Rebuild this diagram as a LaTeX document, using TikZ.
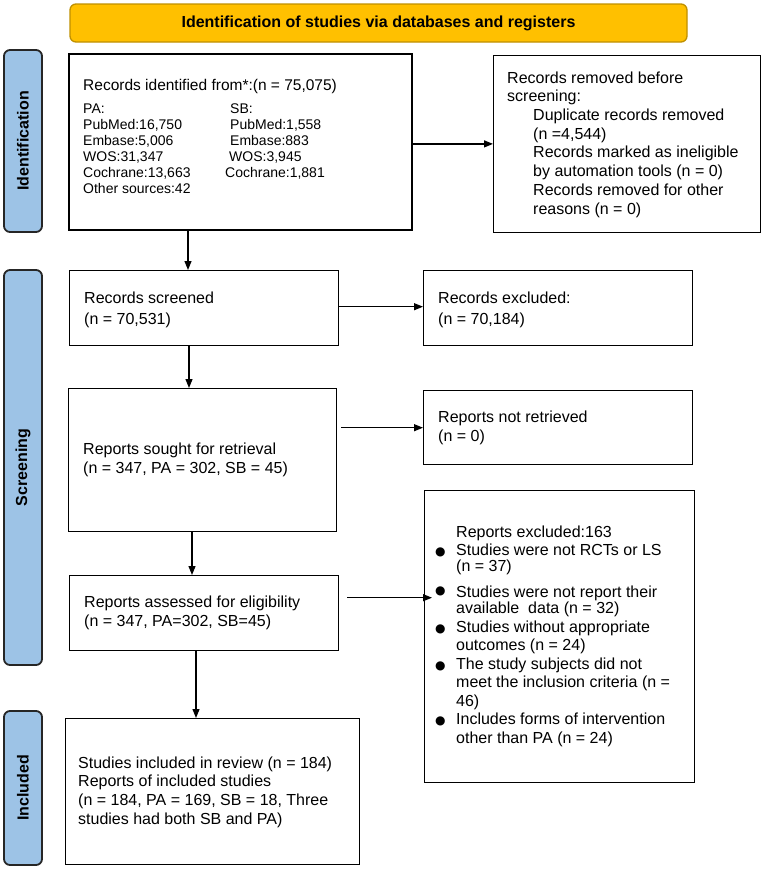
\documentclass[tikz,border=0pt]{standalone}
\usepackage{fontspec}
\setmainfont{Liberation Sans}
\newfontfamily\dejavu{DejaVu Sans}
\usetikzlibrary{arrows.meta}
\definecolor{banfill}{HTML}{FFC000}
\definecolor{banline}{HTML}{BF9000}
\definecolor{barfill}{HTML}{9DC3E6}
\definecolor{barline}{HTML}{262626}
\newcommand{\bul}{\makebox[21pt][l]{{\dejavu\fontsize{12}{12}\selectfont ●}}}
\newcommand{\bulr}{\makebox[21pt][l]{\raisebox{3pt}{\dejavu\fontsize{12}{12}\selectfont ●}}}
\begin{document}
\begin{tikzpicture}[x=1pt,y=-1pt,
  box/.style={draw=black, line width=1.4pt, inner sep=0, anchor=north west},
  bar/.style={draw=barline, fill=barfill, line width=1.8pt, rounded corners=6pt, rotate=90,
    inner sep=0, font=\bfseries\fontsize{16}{18}\selectfont},
  banner/.style={draw=banline, fill=banfill, line width=1.3pt, rounded corners=6pt,
    inner sep=0, font=\bfseries\fontsize{16}{18}\selectfont},
  txt/.style={inner sep=0, anchor=west, align=left, font=\fontsize{16}{18.7}\selectfont},
  arr/.style={line width=1.2pt, -{Triangle[length=9pt,width=7pt]}}]
\useasboundingbox (0,0) rectangle (765,870);

% banner and side bars
\node[banner, minimum width=617pt, minimum height=38pt] (ban) at (378.5,23) {Identification of studies via databases and registers};
\node[bar, minimum width=182pt, minimum height=38pt] (idbar) at (23,141) {Identification};
\node[bar, minimum width=395pt, minimum height=38pt] (scbar) at (23,467.5) {Screening};
\node[bar, minimum width=154pt, minimum height=38pt] (inbar) at (23,788) {Included};

% boxes
\node[box, line width=1.8pt, minimum width=343pt, minimum height=176pt] (b1) at (68,53) {};
\node[box, minimum width=267pt, minimum height=177pt] (b2) at (493,55) {};
\node[box, minimum width=269pt, minimum height=75pt] (scr) at (69,270) {};
\node[box, minimum width=269pt, minimum height=75pt] (exc) at (423,270) {};
\node[box, minimum width=268pt, minimum height=143pt] (sou) at (68,388) {};
\node[box, minimum width=269pt, minimum height=74pt] (nre) at (423,390) {};
\node[box, minimum width=269pt, minimum height=75pt] (ass) at (69,575) {};
\node[box, minimum width=270pt, minimum height=292pt] (rex) at (424,490) {};
\node[box, minimum width=294pt, minimum height=146pt] (inc) at (65,718) {};

% texts
\node[txt, font=\fontsize{15.5}{18}\selectfont] (t1) at (83,86) {Records identified from*:(n = 75,075)};
\node[txt, anchor=north west, font=\fontsize{14}{16}\selectfont] (pa) at (83,104)
  {PA:\\PubMed:16,750\\Embase:5,006\\WOS:31,347\\Cochrane:13,663\\Other sources:42};
\node[txt, anchor=north west, font=\fontsize{14}{16}\selectfont] (sb) at (230,104)
  {SB:\\PubMed:1,558\\Embase:883\\\hspace*{-1pt}WOS:3,945\\\hspace*{-5pt}Cochrane:1,881};
\node[txt] (t2) at (507,144.5)
  {Records removed before\\screening:\\\hspace*{26pt}Duplicate records removed\\\hspace*{26pt}(n =4,544)\\
   \hspace*{26pt}Records marked as ineligible\\\hspace*{26pt}by automation tools (n = 0)\\
   \hspace*{26pt}Records removed for other\\\hspace*{26pt}reasons (n = 0)};
\node[txt, font=\fontsize{16}{21.5}\selectfont] (tscr) at (84,310) {Records screened\\(n = 70,531)};
\node[txt, font=\fontsize{16}{21.5}\selectfont] (texc) at (438,310) {Records excluded:\\(n = 70,184)};
\node[txt, font=\fontsize{16}{19}\selectfont] (tsou) at (83,460) {Reports sought for retrieval\\(n = 347, PA = 302, SB = 45)};
\node[txt, font=\fontsize{16}{19}\selectfont] (tnre) at (438,428) {Reports not retrieved\\(n = 0)};
\node[txt, font=\fontsize{16}{19}\selectfont] (tass) at (84,613) {Reports assessed for eligibility\\(n = 347, PA=302, SB=45)};
\node[txt] (tinc) at (78,792) {Studies included in review (n = 184)\\Reports of included studies\\(n = 184, PA = 169, SB = 18, Three\\studies had both SB and PA)};
\node[txt, font=\fontsize{16}{18.5}\selectfont] (trex) at (435,636.5)
  {\begin{tabular}{@{}l@{}l@{}}
   \makebox[21pt]{} & Reports excluded:163\\
   \bul & Studies were not RCTs or LS\\[-2.5pt]
    & (n = 37)\\[7.5pt]
   \bulr & Studies were not report their\\[-2.5pt]
    & available\ \ data (n = 32)\\
   \bul & Studies without appropriate\\
    & outcomes (n = 24)\\
   \bul & The study subjects did not\\
    & meet the inclusion criteria (n =\\
    & 46)\\
   \bul & Includes forms of intervention\\
    & other than PA (n = 24)
   \end{tabular}};

% arrows
\draw[arr] ([yshift=-2pt]b1.east) -- ([yshift=-2pt]b1.east -| b2.west);
\draw[arr] ([xshift=120pt]b1.south west) -- ([xshift=120pt]b1.south west |- scr.north);
\draw[arr] ([xshift=120pt]scr.south west) -- ([xshift=120pt]scr.south west |- sou.north);
\draw[arr] ([yshift=1.5pt]scr.east) -- ([yshift=1.5pt]scr.east -| exc.west);
\draw[arr] ([xshift=4pt]sou.east |- nre.west) -- (nre.west);
\draw[arr] ([xshift=124pt]sou.south west) -- ([xshift=124pt]sou.south west |- ass.north);
\draw[arr] ([xshift=8pt,yshift=15.5pt]ass.east) -- ([xshift=8pt,yshift=15.5pt]ass.east -| rex.west);
\draw[arr] ([xshift=127pt]ass.south west) -- ([xshift=127pt]ass.south west |- inc.north);
\end{tikzpicture}
\end{document}
